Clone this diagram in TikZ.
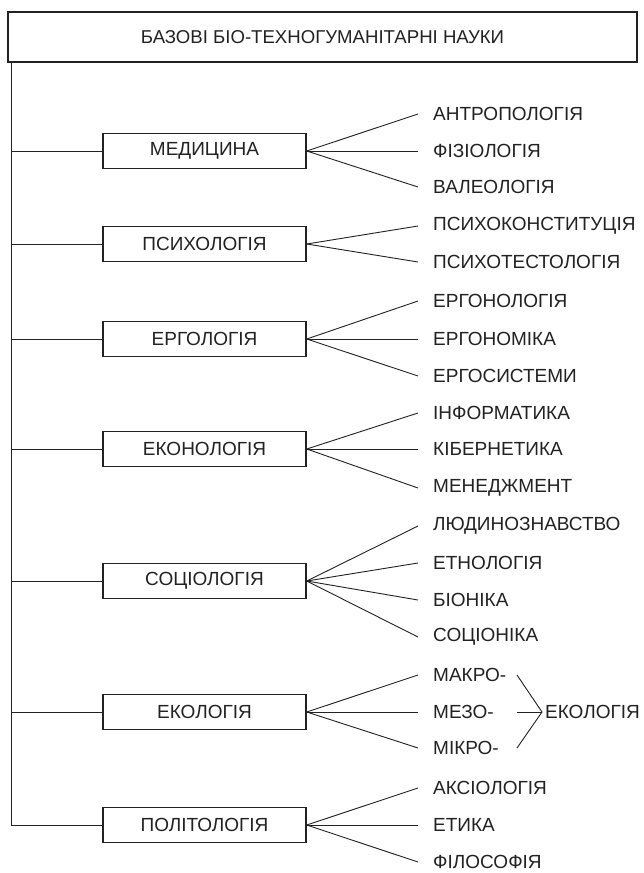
\documentclass[tikz,border=0pt]{standalone}
\usepackage{fontspec}
\setmainfont{Liberation Sans}
\definecolor{ink}{HTML}{222222}
\begin{document}
\begin{tikzpicture}[x=1pt,y=-1pt,
  txt/.style={font=\fontsize{19}{22}\selectfont, text=ink},
  lbl/.style={txt, inner sep=0pt, anchor=west},
  catbox/.style={txt, draw=ink, line width=1.5pt, minimum width=203pt, minimum height=35pt, inner sep=0pt},
  ln/.style={draw=ink, line width=0.9pt}
]
\useasboundingbox (0,0) rectangle (643,873);
\fill[white] (0,0) rectangle (643,873);
% title
\node[txt, font=\fontsize{18.6}{22}\selectfont, draw=ink, line width=2.2pt, minimum width=629pt, minimum height=50pt, inner sep=0pt] (top) at (322.5,37) {БАЗОВІ БІО-ТЕХНОГУМАНІТАРНІ НАУКИ};
% category boxes
\node[catbox] (med) at (204.5,151) {МЕДИЦИНА};
\node[catbox] (psy) at (204.5,244) {ПСИХОЛОГІЯ};
\node[catbox] (erg) at (204.5,339) {ЕРГОЛОГІЯ};
\node[catbox] (eko) at (204.5,449) {ЕКОНОЛОГІЯ};
\node[catbox] (soc) at (204.5,581) {СОЦІОЛОГІЯ};
\node[catbox] (ekl) at (204.5,712) {ЕКОЛОГІЯ};
\node[catbox] (pol) at (204.5,825) {ПОЛІТОЛОГІЯ};
% trunk
\coordinate (trtop) at (11,62);
\coordinate (trbot) at (11,825);
\draw[ln] (trtop) -- (trbot);
\foreach \n in {med,psy,erg,eko,soc,ekl,pol}{
  \draw[ln] (trtop |- \n.west) -- (\n.west);
}
% items
\node[lbl] (ant) at (433,114) {АНТРОПОЛОГІЯ};
\node[lbl] (fiz) at (433,151) {ФІЗІОЛОГІЯ};
\node[lbl] (val) at (433,187) {ВАЛЕОЛОГІЯ};
\node[lbl] (pk) at (433,226) {ПСИХОКОНСТИТУЦІЯ};
\node[lbl] (pt) at (433,262) {ПСИХОТЕСТОЛОГІЯ};
\node[lbl] (ergn) at (433,301) {ЕРГОНОЛОГІЯ};
\node[lbl] (ergm) at (433,339) {ЕРГОНОМІКА};
\node[lbl] (ergs) at (433,376) {ЕРГОСИСТЕМИ};
\node[lbl] (inf) at (433,413) {ІНФОРМАТИКА};
\node[lbl] (kib) at (433,449) {КІБЕРНЕТИКА};
\node[lbl] (men) at (433,488) {МЕНЕДЖМЕНТ};
\node[lbl] (lud) at (433,526) {ЛЮДИНОЗНАВСТВО};
\node[lbl] (etn) at (433,563) {ЕТНОЛОГІЯ};
\node[lbl] (bio) at (433,600) {БІОНІКА};
\node[lbl] (scn) at (433,637) {СОЦІОНІКА};
\node[lbl] (mak) at (433,675) {МАКРО-};
\node[lbl] (mez) at (433,712) {МЕЗО-};
\node[lbl] (mik) at (433,748) {МІКРО-};
\node[lbl] (aks) at (433,788) {АКСІОЛОГІЯ};
\node[lbl] (eti) at (433,825) {ЕТИКА};
\node[lbl] (fil) at (433,862) {ФІЛОСОФІЯ};
\node[lbl] (ekr) at (545,712) {ЕКОЛОГІЯ};
% fans
\foreach \b/\list in {med/{ant,fiz,val}, psy/{pk,pt}, erg/{ergn,ergm,ergs}, eko/{inf,kib,men}, soc/{lud,etn,bio,scn}, ekl/{mak,mez,mik}, pol/{aks,eti,fil}}{
  \foreach \i in \list {
    \draw[ln] (\b.east) -- ([xshift=-15pt]\i.west);
  }
}
% ecology bracket
\coordinate (bt) at (517,675);
\coordinate (bm) at (517,712);
\coordinate (bb) at (517,748);
\draw[ln] (bt) -- ([xshift=-3pt]ekr.west) -- (bb);
\draw[ln] (bm) -- ([xshift=-3pt]ekr.west);
\end{tikzpicture}
\end{document}
